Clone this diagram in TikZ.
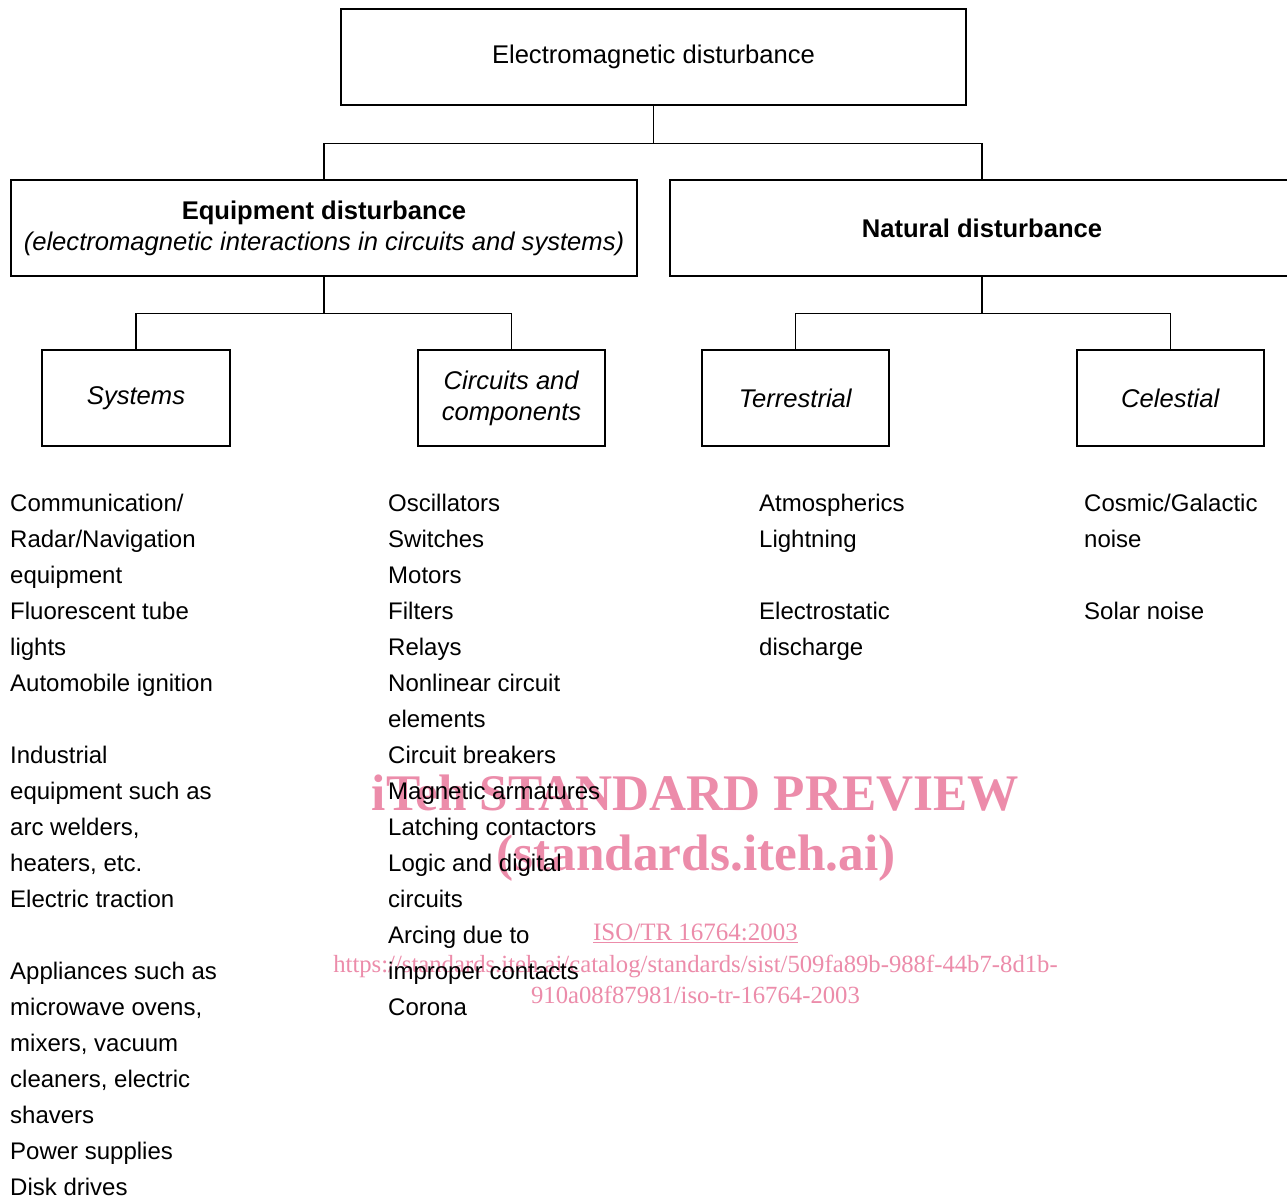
\documentclass[tikz,border=0pt]{standalone}
\usepackage{fontspec}
\setmainfont{Liberation Sans}
\newfontfamily\wmfont{Liberation Serif}
\definecolor{wmpink}{RGB}{236,140,170}
\begin{document}
\begin{tikzpicture}[x=1pt,y=-1pt,
  box/.style={draw, line width=2.4pt, inner sep=0pt, minimum height=96pt,
    align=center, font=\fontsize{25.6}{31}\selectfont},
  conn/.style={line width=1.1pt},
  listcol/.style={anchor=north west, inner sep=0pt, align=left,
    font=\fontsize{24}{36}\selectfont},
  wm/.style={text=wmpink, inner sep=0pt, anchor=base,
    font=\wmfont\fontsize{25}{25}\selectfont},
  wmurl/.style={wm, font=\wmfont\fontsize{24.7}{25}\selectfont},
  wmbig/.style={wm, font=\wmfont\bfseries\fontsize{51.3}{51}\selectfont}]
\clip (0,0) rectangle (1287,1198);
\fill[white] (0,0) rectangle (1287,1198);

% watermark lettering
\node[wmbig] (wm1) at (695.5,810) {iTeh STANDARD PREVIEW};
\node[wmbig] (wm2) at (696,870) {(standards.iteh.ai)};
\node[wm] (wm3) at (695.5,940) {\underline{ISO/TR 16764:2003}};
\node[wmurl] (wm4) at (695.5,972) {https://standards.iteh.ai/catalog/standards/sist/509fa89b-988f-44b7-8d1b-};
\node[wmurl] (wm5) at (695.5,1003) {910a08f87981/iso-tr-16764-2003};

% hierarchy boxes
\node[box, minimum width=625pt] (em) at (653.5,57) {Electromagnetic disturbance};
\node[box, minimum width=626pt] (eq) at (324,228)
  {\textbf{Equipment disturbance}\\\textit{(electromagnetic interactions in circuits and systems)}};
\node[box, minimum width=624pt] (nat) at (982,228) {\textbf{Natural disturbance}};
\node[box, minimum width=188pt] (sys) at (136,398) {\textit{Systems}};
\node[box, minimum width=187pt] (cc) at (511.5,398) {\textit{Circuits and}\\\textit{components}};
\node[box, minimum width=187pt] (ter) at (795.5,398) {\textit{Terrestrial}};
\node[box, minimum width=187pt] (cel) at (1170.5,398) {\textit{Celestial}};

% tree connectors
\draw[conn] (em.south) -- ++(0,37) coordinate (j0);
\draw[conn] (eq.north) |- (j0) -| (nat.north);
\draw[conn] (eq.south) -- ++(0,36) coordinate (j1);
\draw[conn] (sys.north) |- (j1) -| (cc.north);
\draw[conn] (nat.south) -- ++(0,36) coordinate (j2);
\draw[conn] (ter.north) |- (j2) -| (cel.north);

% example lists
\node[listcol] (lsys) at (10,494) {Communication/\\Radar/Navigation\\equipment\\Fluorescent tube\\lights\\Automobile ignition\\[36pt]Industrial\\equipment such as\\arc welders,\\heaters, etc.\\Electric traction\\[36pt]Appliances such as\\microwave ovens,\\mixers, vacuum\\cleaners, electric\\shavers\\Power supplies\\Disk drives};
\node[listcol] (lcc) at (388,494) {Oscillators\\Switches\\Motors\\Filters\\Relays\\Nonlinear circuit\\elements\\Circuit breakers\\Magnetic armatures\\Latching contactors\\Logic and digital\\circuits\\Arcing due to\\improper contacts\\Corona};
\node[listcol] (lter) at (759,494) {Atmospherics\\Lightning\\[36pt]Electrostatic\\discharge};
\node[listcol] (lcel) at (1084,494) {Cosmic/Galactic\\noise\\[36pt]Solar noise};
\end{tikzpicture}
\end{document}
